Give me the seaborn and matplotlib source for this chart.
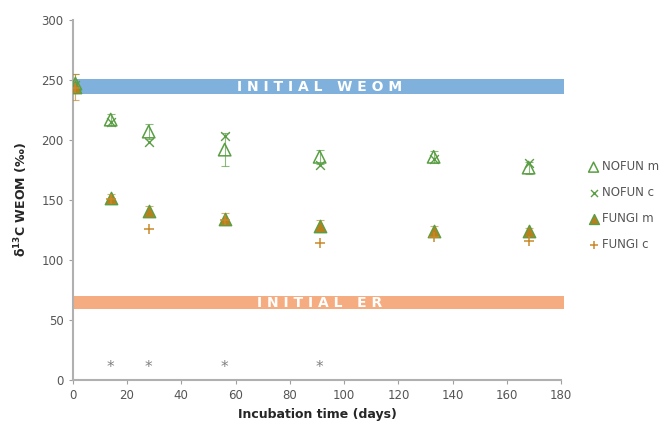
import numpy as np
import pandas as pd
import matplotlib
matplotlib.use("Agg")
import matplotlib.pyplot as plt
import seaborn as sns

days = [1, 14, 28, 56, 91, 133, 168]
nofun_m = [247, 217, 207, 192, 186, 186, 177]
nofun_m_err = [8, 5, 6, 14, 6, 5, 5]
nofun_c = [246, 215, 198, 203, 179, 184, 181]
fungi_m = [244, 152, 141, 134, 128, 124, 124]
fungi_m_err = [11, 3, 4, 5, 5, 4, 3]
fungi_c = [243, 151, 126, 133, 114, 119, 116]
star_days = [14, 28, 56, 91]
star_y = 10
weom_band = (238, 251)
er_band = (59, 70)

green = "#5a9e44"
brown = "#b8801c"
plus_col = "#c88a2a"
grey = "#a0a0a0"

sns.set_style("white")
plt.rcParams['font.family'] = ['DejaVu Sans']

fig = plt.figure(figsize=(6.61, 4.26), dpi=100)
ax = fig.add_axes([0.110, 0.108, 0.739, 0.845])

# bands
ax.axhspan(weom_band[0], weom_band[1], xmin=0, xmax=181/180, color="#80b1dc", lw=0, zorder=1, clip_on=False)
ax.axhspan(er_band[0], er_band[1], xmin=0, xmax=181/180, color="#f5ac80", lw=0, zorder=1, clip_on=False)
ax.text(91, (weom_band[0] + weom_band[1]) / 2, "I N I T I A L   W E O M", color="white",
        fontsize=10, fontweight="bold", ha="center", va="center", zorder=2)
ax.text(91, (er_band[0] + er_band[1]) / 2, "I N I T I A L   E R", color="white",
        fontsize=10, fontweight="bold", ha="center", va="center", zorder=2)

# error bars
ax.errorbar(days, nofun_m, yerr=nofun_m_err, fmt="none", ecolor=green, elinewidth=0.8,
            capsize=3, capthick=0.8, alpha=0.7, ls=":", zorder=3)
ax.errorbar(days, fungi_m, yerr=fungi_m_err, fmt="none", ecolor=plus_col, elinewidth=0.8,
            capsize=3, capthick=0.8, alpha=0.7, zorder=3)

df_nm = pd.DataFrame({"day": days, "val": nofun_m})
df_nc = pd.DataFrame({"day": days, "val": nofun_c})
df_fm = pd.DataFrame({"day": days, "val": fungi_m})
df_fc = pd.DataFrame({"day": days, "val": fungi_c})

sns.scatterplot(data=df_nm, x="day", y="val", marker="^", s=80, facecolor="none",
                edgecolor=green, linewidth=1.1, ax=ax, zorder=4, label="NOFUN m")
sns.scatterplot(data=df_nc, x="day", y="val", marker="x", s=40, color=green,
                linewidth=1.0, ax=ax, zorder=4, label="NOFUN c")
sns.scatterplot(data=df_fm, x="day", y="val", marker="^", s=80, facecolor=brown,
                edgecolor=green, linewidth=1.0, ax=ax, zorder=5, label="FUNGI m")
sns.scatterplot(data=df_fc, x="day", y="val", marker="+", s=50, color=plus_col,
                linewidth=1.1, ax=ax, zorder=5, label="FUNGI c")

for d in star_days:
    ax.text(d, star_y, "*", color="#808080", fontsize=11, ha="center", va="center")

ax.set_xlim(0, 180)
ax.set_ylim(0, 300)
ax.set_xticks(np.arange(0, 181, 20))
ax.set_yticks(np.arange(0, 301, 50))
ax.tick_params(axis="both", colors=grey, labelcolor="#555555", labelsize=8.5,
               length=3, width=0.8, direction="out", bottom=True, left=True)
for s in ["top", "right"]:
    ax.spines[s].set_visible(False)
for s in ["left", "bottom"]:
    ax.spines[s].set_color("#b0b0b0")
    ax.spines[s].set_linewidth(1.5)

ax.set_xlabel("Incubation time (days)", fontsize=9, fontweight="bold", labelpad=4)
ax.set_ylabel(r"$\mathbf{\delta^{13}C}$ WEOM (‰)", fontsize=9, fontweight="bold", labelpad=8)

leg = ax.legend(loc="upper left", bbox_to_anchor=(1.03, 0.64), frameon=False, fontsize=8.5,
                handletextpad=0.1, labelspacing=1.1, markerscale=0.8, handlelength=1.2)
for t in leg.get_texts():
    t.set_color("#555555")

fig.savefig("out.png", dpi=100)
